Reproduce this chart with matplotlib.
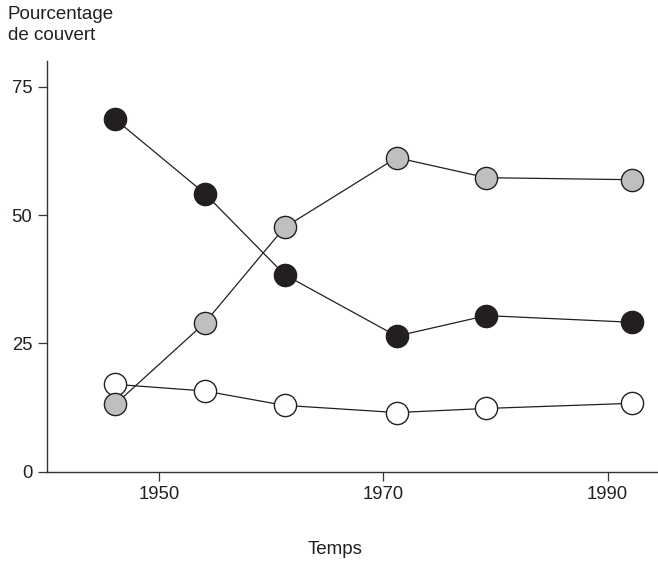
import matplotlib.pyplot as plt

# years of survey
annees = [1946.1, 1954.1, 1961.2, 1971.2, 1979.2, 1992.2]

# percentage cover for the three groups
couvert_noir = [68.7, 54.2, 38.4, 26.4, 30.4, 29.1]
couvert_gris = [13.1, 29.0, 47.6, 61.2, 57.3, 56.9]
couvert_blanc = [17.0, 15.7, 12.9, 11.5, 12.3, 13.3]

x_ticks = [1950, 1970, 1990]
y_ticks = [0, 25, 50, 75]

plt.rcParams['font.family'] = ['Liberation Sans', 'DejaVu Sans']

fig = plt.figure(figsize=(6.58, 5.62), dpi=100)
ax = fig.add_axes([0.071, 0.161, 0.929, 0.730])

line_kw = dict(color='#231f20', linewidth=0.9, markersize=16,
               markeredgecolor='#231f20', markeredgewidth=1.0)
ax.plot(annees, couvert_blanc, marker='o', markerfacecolor='white', zorder=3, **line_kw)
ax.plot(annees, couvert_gris, marker='o', markerfacecolor='#bfbfbf', zorder=4, **line_kw)
ax.plot(annees, couvert_noir, marker='o', markerfacecolor='#231f20', zorder=5, **line_kw)

ax.set_xlim(1940, 1994.5)
ax.set_ylim(0, 80)
ax.set_xticks(x_ticks)
ax.set_yticks(y_ticks)
ax.spines['top'].set_visible(False)
ax.spines['right'].set_visible(False)
for s in ['left', 'bottom']:
    ax.spines[s].set_color('#333333')
    ax.spines[s].set_linewidth(1.0)
ax.tick_params(direction='out', length=6.5, width=0.9, color='#333333',
               labelsize=13.3, labelcolor='#231f20', pad=4)

fig.text(0.012, 0.99, 'Pourcentage\nde couvert', ha='left', va='top',
         fontsize=13.5, color='#231f20', linespacing=1.35)
fig.text(335 / 658, 1 - 549 / 562, 'Temps', ha='center', va='center',
         fontsize=13.5, color='#231f20')

fig.savefig('out.png', dpi=100)
